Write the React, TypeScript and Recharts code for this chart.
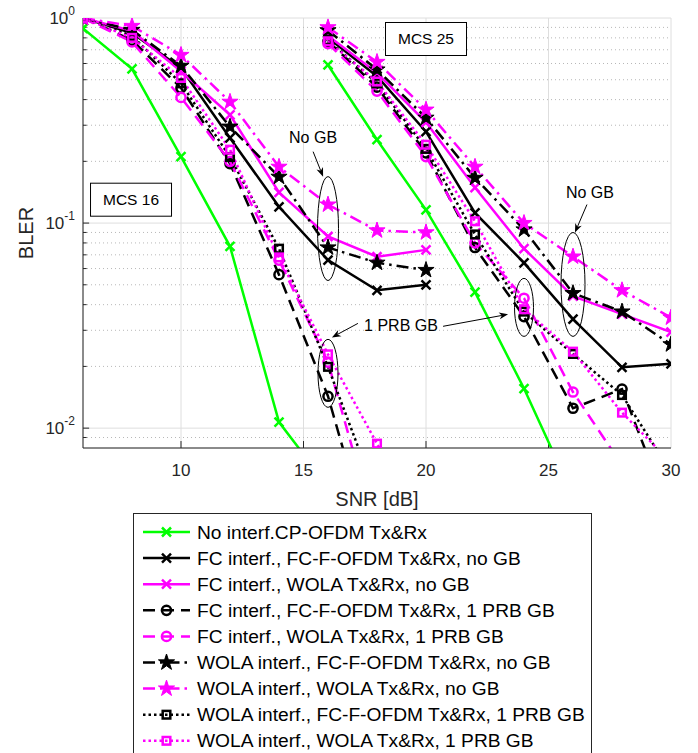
import React from "react"
import { LineChart, Line, XAxis, YAxis, CartesianGrid, ReferenceLine, ReferenceDot } from "recharts"

// SNR points for the two MCS groups
const snrMcs16 = [6, 8, 10, 12, 14, 16, 18, 20]
const snrMcs25 = [16, 18, 20, 22, 24, 26, 28, 30]

// BLER (MCS 16 / MCS 25)
const noInterf16 = [0.89, 0.565, 0.211, 0.077, 0.0107, 0.0052]
const noInterf25 = [0.59, 0.255, 0.116, 0.046, 0.0156, 0.0047]

const fcFcNoGb16 = [1.0, 0.845, 0.57, 0.26, 0.12, 0.066, 0.047, 0.05]
const fcFcNoGb25 = [0.8, 0.52, 0.279, 0.112, 0.064, 0.034, 0.0198, 0.0206]

const fcWolaNoGb16 = [1.0, 0.865, 0.55, 0.337, 0.141, 0.086, 0.0685, 0.074]
const fcWolaNoGb25 = [0.82, 0.54, 0.31, 0.149, 0.075, 0.044, 0.036, 0.0294]

const fcFc1Prb16 = [1.0, 0.78, 0.456, 0.195, 0.056, 0.0143, 0.0021]
const fcFc1Prb25 = [0.77, 0.46, 0.22, 0.076, 0.035, 0.0125, 0.0155, 0.0037]

const fcWola1Prb16 = [1.0, 0.764, 0.41, 0.2, 0.066, 0.021, 0.003]
const fcWola1Prb25 = [0.75, 0.44, 0.211, 0.08, 0.043, 0.015, 0.0066]

const wolaFcNoGb16 = [1.0, 0.874, 0.584, 0.295, 0.168, 0.076, 0.064, 0.059]
const wolaFcNoGb25 = [0.87, 0.56, 0.326, 0.166, 0.093, 0.0455, 0.037, 0.0256]

const wolaWolaNoGb16 = [1.0, 0.914, 0.66, 0.39, 0.188, 0.123, 0.092, 0.09]
const wolaWolaNoGb25 = [0.9, 0.61, 0.357, 0.188, 0.1, 0.0686, 0.047, 0.0346]

const wolaFc1Prb16 = [1.0, 0.817, 0.48, 0.21, 0.075, 0.0199, 0.0046]
const wolaFc1Prb25 = [0.78, 0.48, 0.23, 0.088, 0.037, 0.023, 0.0145, 0.0061]

const wolaWola1Prb16 = [1.0, 0.8, 0.51, 0.228, 0.068, 0.0229, 0.0084, 0.003]
const wolaWola1Prb25 = [0.77, 0.49, 0.241, 0.102, 0.038, 0.0236, 0.0119, 0.0068]

const xTicks = [10, 15, 20, 25, 30]
const yTicks = [0.01, 0.1, 1]
const yMinor = [0.009, 0.02, 0.03, 0.04, 0.05, 0.06, 0.07, 0.08, 0.09, 0.2, 0.3, 0.4, 0.5, 0.6, 0.7, 0.8, 0.9]

const GREEN = "#00ff00"
const MAGENTA = "#ff00ff"
const BLACK = "#000000"
const AXIS = "#262626"

const SOLID = undefined
const DASHED = "12 7"
const DASHDOT = "12 5 2.5 5"
const DOTTED = "2.5 3"

type MarkerKind = "x" | "circle" | "star" | "square"

const series = [
  { name: "No interf.CP-OFDM Tx&Rx", color: GREEN, dash: SOLID, marker: "x", a: noInterf16, b: noInterf25 },
  { name: "FC interf., FC-F-OFDM Tx&Rx, no GB", color: BLACK, dash: SOLID, marker: "x", a: fcFcNoGb16, b: fcFcNoGb25 },
  { name: "FC interf., WOLA Tx&Rx, no GB", color: MAGENTA, dash: SOLID, marker: "x", a: fcWolaNoGb16, b: fcWolaNoGb25 },
  { name: "FC interf., FC-F-OFDM Tx&Rx, 1 PRB GB", color: BLACK, dash: DASHED, marker: "circle", a: fcFc1Prb16, b: fcFc1Prb25 },
  { name: "FC interf., WOLA Tx&Rx, 1 PRB GB", color: MAGENTA, dash: DASHED, marker: "circle", a: fcWola1Prb16, b: fcWola1Prb25 },
  { name: "WOLA interf., FC-F-OFDM Tx&Rx, no GB", color: BLACK, dash: DASHDOT, marker: "star", a: wolaFcNoGb16, b: wolaFcNoGb25 },
  { name: "WOLA interf., WOLA Tx&Rx, no GB", color: MAGENTA, dash: DASHDOT, marker: "star", a: wolaWolaNoGb16, b: wolaWolaNoGb25 },
  { name: "WOLA interf., FC-F-OFDM Tx&Rx, 1 PRB GB", color: BLACK, dash: DOTTED, marker: "square", a: wolaFc1Prb16, b: wolaFc1Prb25 },
  { name: "WOLA interf., WOLA Tx&Rx, 1 PRB GB", color: MAGENTA, dash: DOTTED, marker: "square", a: wolaWola1Prb16, b: wolaWola1Prb25 },
]

const toPoints = (snr: number[], vals: number[]) => vals.map((v, i) => ({ snr: snr[i], bler: v }))

function starPath(cx: number, cy: number, R: number) {
  const r = R * 0.382
  let d = ""
  for (let i = 0; i < 10; i++) {
    const ang = -Math.PI / 2 + (i * Math.PI) / 5
    const rad = i % 2 === 0 ? R : r
    d += (i === 0 ? "M" : "L") + (cx + rad * Math.cos(ang)).toFixed(2) + "," + (cy + rad * Math.sin(ang)).toFixed(2)
  }
  return d + "Z"
}

function Marker({ kind, cx, cy, color }: { kind: MarkerKind; cx: number; cy: number; color: string }) {
  if (cx == null || cy == null || isNaN(cx) || isNaN(cy)) return null
  if (kind === "x") {
    const h = 4.5
    return (
      <g stroke={color} strokeWidth={2.5}>
        <line x1={cx - h} y1={cy - h} x2={cx + h} y2={cy + h} />
        <line x1={cx - h} y1={cy + h} x2={cx + h} y2={cy - h} />
      </g>
    )
  }
  if (kind === "circle") return <circle cx={cx} cy={cy} r={4.6} fill="none" stroke={color} strokeWidth={2.5} />
  if (kind === "square") return <rect x={cx - 3.8} y={cy - 3.8} width={7.6} height={7.6} fill="none" stroke={color} strokeWidth={2.5} />
  return <path d={starPath(cx, cy, 8.5)} fill={color} stroke={color} strokeWidth={1} strokeLinejoin="round" />
}

const PowerTick = (props: any) => {
  const { x, y, payload } = props
  const exp = Math.round(Math.log10(payload.value))
  return (
    <text x={x} y={y} textAnchor="end" fill={AXIS} fontSize={17}>
      <tspan dy={6}>10</tspan>
      <tspan dy={-9} fontSize={12}>{String(exp)}</tspan>
    </text>
  )
}

const YLabel = (props: any) => {
  const vb = props.viewBox
  const x = vb.x + 3
  const y = vb.y + vb.height / 2
  return (
    <text x={x} y={y} transform={`rotate(-90, ${x}, ${y})`} textAnchor="middle" dominantBaseline="central" fontSize={20} fill={AXIS}>
      BLER
    </text>
  )
}

const ellipse = (rx: number, ry: number) => (p: any) => (
  <ellipse cx={p.cx} cy={p.cy} rx={rx} ry={ry} fill="none" stroke={BLACK} strokeWidth={1} />
)

const label = (txt: string) => (p: any) => (
  <text x={p.cx} y={p.cy} textAnchor="middle" dominantBaseline="central" fontSize={16} fill={BLACK}>
    {txt}
  </text>
)

const boxLabel = (txt: string) => (p: any) => (
  <g>
    <rect x={p.cx - 40.5} y={p.cy - 16.5} width={81} height={33} fill="#fff" stroke={BLACK} strokeWidth={1} />
    <text x={p.cx} y={p.cy} textAnchor="middle" dominantBaseline="central" fontSize={15.5} fill={BLACK}>
      {txt}
    </text>
  </g>
)

// arrow whose head sits on the anchor, tail offset in px
const arrow = (dx: number, dy: number) => (p: any) => {
  const len = Math.hypot(dx, dy)
  const ux = -dx / len
  const uy = -dy / len
  const hx = p.cx
  const hy = p.cy
  const L = 9
  const W = 3.5
  const bx = hx - ux * L
  const by = hy - uy * L
  const nx = -uy
  const ny = ux
  const notchX = hx - ux * L * 0.7
  const notchY = hy - uy * L * 0.7
  return (
    <g>
      <line x1={hx + dx} y1={hy + dy} x2={notchX} y2={notchY} stroke={BLACK} strokeWidth={1} />
      <path
        d={`M${hx},${hy} L${bx + nx * W},${by + ny * W} L${notchX},${notchY} L${bx - nx * W},${by - ny * W} Z`}
        fill={BLACK}
      />
    </g>
  )
}

function Legend() {
  const top = 532
  const step = 26.1
  return (
    <svg width={698} height={753} style={{ position: "absolute", left: 0, top: 0, pointerEvents: "none" }}>
      <rect x={133.5} y={513.5} width={458} height={260} fill="#fff" stroke={AXIS} strokeWidth={1} />
      {series.map((s, i) => {
        const y = top + i * step
        return (
          <g key={s.name}>
            <line x1={143} y1={y} x2={190} y2={y} stroke={s.color} strokeWidth={2.5} strokeDasharray={s.dash} />
            <Marker kind={s.marker as MarkerKind} cx={166.5} cy={y} color={s.color} />
            <text x={197} y={y} dominantBaseline="central" fontSize={19.2} fill={BLACK}>
              {s.name}
            </text>
          </g>
        )
      })}
    </svg>
  )
}

export default function App() {
  return (
    <div
      style={{
        position: "absolute",
        left: 0,
        top: 0,
        width: 698,
        height: 753,
        background: "#fff",
        overflow: "hidden",
        fontFamily: "'Liberation Sans', Arial, Helvetica, sans-serif",
      }}
    >
      <LineChart width={698} height={510} margin={{ top: 18, right: 27, bottom: 2, left: 23 }}>
        <CartesianGrid stroke="#dedede" strokeWidth={1} />
        {yMinor.map((v) => (
          <ReferenceLine key={"g" + v} y={v} stroke="#b8b8b8" strokeDasharray="1 3" strokeWidth={1} />
        ))}
        <XAxis
          type="number"
          dataKey="snr"
          domain={[6, 30]}
          ticks={xTicks}
          allowDataOverflow
          stroke={AXIS}
          tickLine={false}
          tick={{ fill: AXIS, fontSize: 17 }}
          tickMargin={10}
          height={60}
          label={{ value: "SNR [dB]", position: "insideBottom", offset: 2, fill: AXIS, fontSize: 20 }}
        />
        <YAxis
          type="number"
          scale="log"
          domain={[0.008, 1]}
          ticks={yTicks}
          allowDataOverflow
          stroke={AXIS}
          tickLine={false}
          tick={<PowerTick />}
          width={60}
          label={<YLabel />}
        />
        {yMinor.map((v) => (
          <ReferenceLine key={"t" + v} segment={[{ x: 6, y: v }, { x: 6.15, y: v }]} stroke={AXIS} strokeWidth={1} />
        ))}
        {[0.01, 0.1].map((v) => (
          <ReferenceLine key={"T" + v} segment={[{ x: 6, y: v }, { x: 6.25, y: v }]} stroke={AXIS} strokeWidth={1} />
        ))}
        {xTicks.slice(0, 4).map((v) => (
          <ReferenceLine key={"x" + v} segment={[{ x: v, y: 0.008 }, { x: v, y: 0.00865 }]} stroke={AXIS} strokeWidth={1} />
        ))}
        {series.flatMap((s, i) =>
          [
            [snrMcs16, s.a],
            [snrMcs25, s.b],
          ].map(([snr, vals], j) => (
            <Line
              key={`${i}-${j}`}
              data={toPoints(snr as number[], vals as number[])}
              dataKey="bler"
              type="linear"
              stroke={s.color}
              strokeWidth={2.5}
              strokeDasharray={s.dash}
              isAnimationActive={false}
              activeDot={false}
              dot={(p: any) => <Marker key={p.index} kind={s.marker as MarkerKind} cx={p.cx} cy={p.cy} color={s.color} />}
            />
          ))
        )}
        <ReferenceDot x={7.96} y={0.13} ifOverflow="visible" shape={boxLabel("MCS 16")} />
        <ReferenceDot x={20.0} y={0.79} ifOverflow="visible" shape={boxLabel("MCS 25")} />
        <ReferenceDot x={16} y={0.094} ifOverflow="visible" shape={ellipse(10.5, 52)} />
        <ReferenceDot x={16} y={0.0185} ifOverflow="visible" shape={ellipse(10, 34)} />
        <ReferenceDot x={24} y={0.0388} ifOverflow="visible" shape={ellipse(9.5, 29)} />
        <ReferenceDot x={26} y={0.0502} ifOverflow="visible" shape={ellipse(12, 52)} />
        <ReferenceDot x={15.39} y={0.261} ifOverflow="visible" shape={label("No GB")} />
        <ReferenceDot x={26.69} y={0.1407} ifOverflow="visible" shape={label("No GB")} />
        <ReferenceDot x={18.98} y={0.0317} ifOverflow="visible" shape={label("1 PRB GB")} />
        <ReferenceDot x={15.8} y={0.1684} ifOverflow="visible" shape={arrow(-10, -25)} />
        <ReferenceDot x={26.08} y={0.0899} ifOverflow="visible" shape={arrow(12, -28)} />
        <ReferenceDot x={16.16} y={0.0277} ifOverflow="visible" shape={arrow(26, -14)} />
        <ReferenceDot x={23.35} y={0.0359} ifOverflow="visible" shape={arrow(-65, 12)} />
      </LineChart>
      <Legend />
    </div>
  )
}
